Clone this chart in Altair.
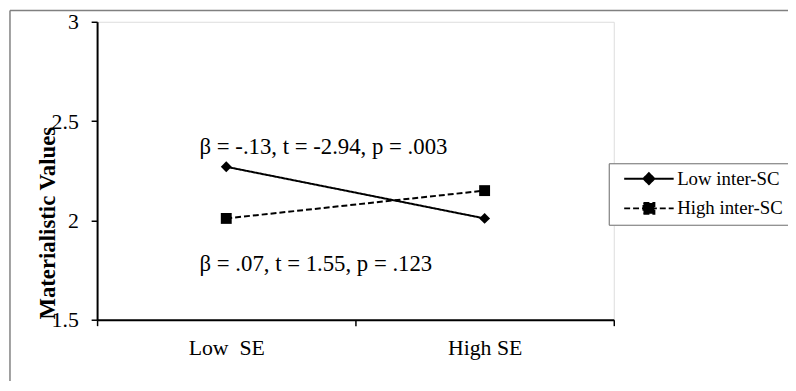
import altair as alt
import pandas as pd

categories = ["Low\u00a0\u00a0SE", "High SE"]
series = ["Low inter-SC", "High inter-SC"]
low_sc = [2.27, 2.01]
high_sc = [2.01, 2.15]
ann_text = ["β = -.13, t = -2.94, p = .003", "β = .07, t = 1.55, p = .123"]
ann_y = [2.367, 1.779]
y_ticks = [1.5, 2, 2.5, 3]

rows = []
for s, vals in zip(series, [low_sc, high_sc]):
    for c, v in zip(categories, vals):
        rows.append({"se": c, "series": s, "value": v})
df = pd.DataFrame(rows)
ann = pd.DataFrame({"se": [categories[0]] * 2, "value": ann_y, "label": ann_text})

W, H = 522, 301
FONT = "'Liberation Serif', 'Times New Roman', Times, serif"

x_enc = alt.X(
    "se:N", sort=categories,
    scale=alt.Scale(paddingInner=0, paddingOuter=0),
    axis=alt.Axis(title=None, tickBand="extent", labelAngle=0, labelFontSize=22,
                  labelFont=FONT, labelColor="black", labelPadding=12, tickSize=6,
                  tickColor="black", tickWidth=1.5, domainColor="black", domainWidth=2,
                  grid=False))
y_enc = alt.Y(
    "value:Q",
    scale=alt.Scale(domain=[1.5, 3], nice=False, zero=False),
    axis=alt.Axis(values=y_ticks, format=".1~f", title="Materialistic Values",
                  titleFont=FONT, titleFontSize=23, titleFontWeight="bold",
                  titleColor="black", titleAngle=-90, titleX=-38, titleY=203,
                  titleAlign="center", titleBaseline="bottom",
                  labelFont=FONT, labelFontSize=22, labelColor="black",
                  labelPadding=13, tickSize=6, tickColor="black", tickWidth=1.5,
                  domainColor="black", domainWidth=2, grid=False))

dash_scale = alt.Scale(domain=series, range=[[1, 0], [6, 3]])
black_scale = alt.Scale(domain=series, range=["black", "black"])

base = alt.Chart(df)

lines = base.mark_line(color="black", strokeWidth=2).encode(
    x=x_enc, y=y_enc,
    strokeDash=alt.StrokeDash("series:N", scale=dash_scale, legend=None),
    detail="series:N",
)

points = base.mark_point(filled=True, color="black", size=121, opacity=1).encode(
    x=x_enc, y=y_enc,
    shape=alt.Shape("series:N", scale=alt.Scale(domain=series, range=["diamond", "square"]),
                    legend=None),
)

leg = alt.Legend(title=None, orient="none", legendX=517, legendY=143,
                 labelFont=FONT, labelFontSize=19, labelColor="black",
                 strokeColor="#808080", fillColor="white", padding=6,
                 rowPadding=10, symbolSize=100, symbolStrokeWidth=2,
                 symbolFillColor="black", symbolStrokeColor="black",
                 symbolOpacity=1, labelOffset=44)

legend_paths = ["M0,0H10M5,-1.1L6.1,0L5,1.1L3.9,0Z",
                "M0,0H10M3.9,-1.1L6.1,-1.1L6.1,1.1L3.9,1.1Z"]

legend_layer = base.transform_calculate(off="10").mark_point(
    filled=True, strokeWidth=2, size=100, opacity=1, clip=True
).encode(
    x=x_enc,
    y=alt.Y("off:Q"),
    shape=alt.Shape("series:N", scale=alt.Scale(domain=series, range=legend_paths), legend=leg),
    strokeDash=alt.StrokeDash("series:N", scale=dash_scale, legend=leg),
    fill=alt.Fill("series:N", scale=black_scale, legend=leg),
    stroke=alt.Stroke("series:N", scale=black_scale, legend=leg),
)

texts = alt.Chart(ann).mark_text(align="left", baseline="middle", dx=-27,
                                 font=FONT, fontSize=23, color="black").encode(
    x=alt.X("se:N", sort=categories), y=alt.Y("value:Q"), text="label:N")

frame_top = alt.Chart(pd.DataFrame({"a": [0]})).mark_rule(color="#808080", strokeWidth=1.5).encode(
    x=alt.value(-88), x2=alt.value(W + 176), y=alt.value(-11.5))
frame_left = alt.Chart(pd.DataFrame({"a": [0]})).mark_rule(color="#808080", strokeWidth=1.5).encode(
    x=alt.value(-88), y=alt.value(-11.5), y2=alt.value(H + 62))

chart = alt.layer(frame_top, frame_left, lines, points, texts, legend_layer).resolve_scale(
    shape="independent", strokeDash="independent"
).properties(
    width=W, height=H,
    autosize=alt.AutoSizeParams(type="none"),
    padding={"left": 90, "top": 12, "right": 176, "bottom": 62},
).configure_view(stroke="#808080", strokeWidth=2).configure(background="white")

chart.save("out.html", embed_options={"renderer": "svg", "actions": False})
